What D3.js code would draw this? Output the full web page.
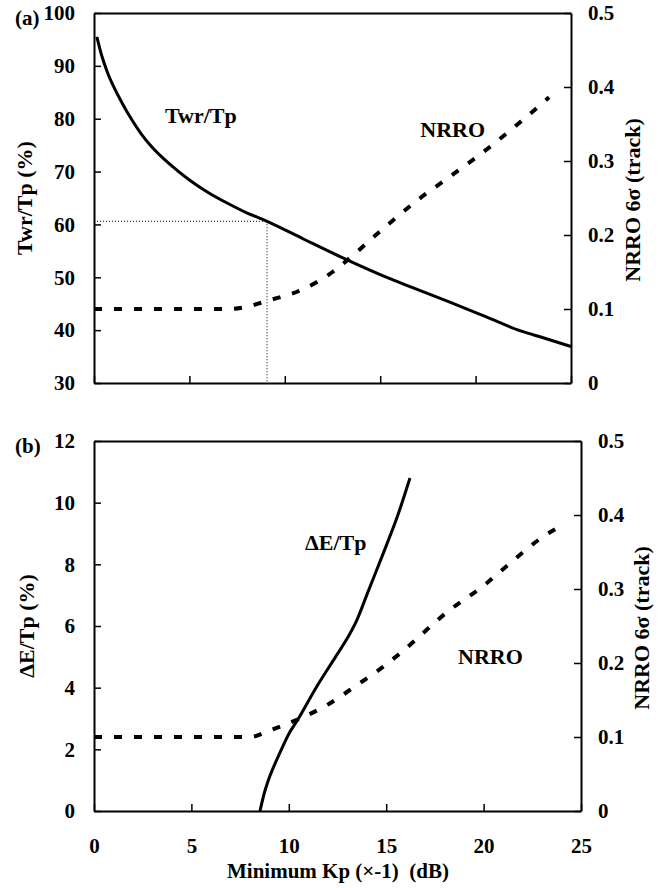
<!DOCTYPE html>
<html>
<head>
<meta charset="utf-8">
<script src="https://d3js.org/d3.v7.min.js"></script>
<style>
  body { margin: 0; background: #fff; }
  svg text { font-family: "Liberation Serif", "Times New Roman", serif; font-weight: bold; fill: #000; }
</style>
</head>
<body>
<div id="widget"></div>
<script>
// panel (a): Twr/Tp vs minimum Kp
const kpTwr = [0.15, 0.4, 0.7, 1, 1.5, 2, 2.5, 3, 4, 5, 6, 7, 8, 9.07, 11, 12.9, 15, 16.8, 18.65, 20.5, 22.4, 23.5, 25];
const twrTp = [95.5, 92, 88.8, 86.3, 82.8, 79.7, 77, 74.8, 71.3, 68.4, 66, 64, 62.2, 60.6, 57.2, 53.9, 50.5, 47.9, 45.3, 42.6, 39.8, 38.6, 36.9];

// panel (a): NRRO 6 sigma
const kpNrroA = [0, 7, 8, 9.07, 10.8, 12.5, 12.9, 15, 17, 18.66, 20.65, 22.22, 23.85];
const nrroA = [0.1, 0.1, 0.103, 0.111, 0.125, 0.15, 0.158, 0.205, 0.248, 0.279, 0.317, 0.35, 0.386];

// guide point on panel (a)
const guideKp = 9.07;
const guideTwr = 60.6;

// panel (b): dE/Tp vs minimum Kp
const kpDe = [8.52, 8.75, 8.95, 9.2, 9.55, 10, 10.4, 11.4, 12.4, 13, 13.5, 14, 14.5, 15, 15.6, 16.22];
const deTp = [0, 0.6, 1, 1.4, 1.9, 2.5, 2.9, 4, 5, 5.6, 6.2, 7, 7.8, 8.6, 9.6, 10.8];

// panel (b): NRRO 6 sigma
const kpNrroB = [0, 8, 9.03, 10.57, 11.95, 13.49, 14.85, 15.71, 18.28, 19.98, 21.36, 23.07, 24.01];
const nrroB = [0.1, 0.1, 0.109, 0.125, 0.143, 0.17, 0.195, 0.213, 0.272, 0.304, 0.335, 0.371, 0.386];

// ticks
const kpTicks = [0, 5, 10, 15, 20, 25];
const twrTicks = [30, 40, 50, 60, 70, 80, 90, 100];
const deTicks = [0, 2, 4, 6, 8, 10, 12];
const nrroTicks = [0, 0.1, 0.2, 0.3, 0.4, 0.5];

const W = 658, H = 888;
const svg = d3.select('#widget').append('svg').attr('width', W).attr('height', H);

function panel(opt) {
  const g = svg.append('g');
  const x = d3.scaleLinear().domain([0, 25]).range([opt.left, opt.right]);
  const yL = d3.scaleLinear().domain(opt.leftDomain).range([opt.bottom, opt.top]);
  const yR = d3.scaleLinear().domain([0, 0.5]).range([opt.bottom, opt.top]);

  const style = (sel) => {
    sel.select('.domain').attr('stroke-width', 2);
    sel.selectAll('.tick line').attr('stroke-width', 1.5);
    sel.selectAll('text').attr('font-size', 21).attr('font-family', null);
  };

  g.append('g').attr('transform', `translate(${opt.left},0)`)
    .call(d3.axisLeft(yL).tickValues(opt.leftTicks).tickSize(-7).tickSizeOuter(0).tickPadding(19))
    .call(style);
  g.append('g').attr('transform', `translate(${opt.right},0)`)
    .call(d3.axisRight(yR).tickValues(nrroTicks).tickSize(-7).tickSizeOuter(0).tickPadding(17)
      .tickFormat(d => d === 0 ? '0' : d3.format('.1f')(d)))
    .call(style);
  const xa = d3.axisBottom(x).tickValues(kpTicks).tickSize(-7).tickSizeOuter(0).tickPadding(27);
  if (!opt.xLabels) xa.tickFormat('');
  g.append('g').attr('transform', `translate(0,${opt.bottom})`).call(xa).call(style);
  g.append('g').attr('transform', `translate(0,${opt.top})`)
    .call(d3.axisTop(x).tickValues([]).tickSizeOuter(0)).call(style);
  g.selectAll('.tick text').attr('fill', '#000');

  g.append('path')
    .datum(opt.main.xs.map((v, i) => [v, opt.main.ys[i]]))
    .attr('fill', 'none').attr('stroke', '#000').attr('stroke-width', 3)
    .attr('stroke-linejoin', 'round')
    .attr('d', d3.line().x(d => x(d[0])).y(d => yL(d[1])).curve(d3.curveMonotoneX));

  g.append('path')
    .datum(opt.nrro.xs.map((v, i) => [v, opt.nrro.ys[i]]))
    .attr('fill', 'none').attr('stroke', '#000').attr('stroke-width', 4)
    .attr('stroke-dasharray', '8,12')
    .attr('d', d3.line().x(d => x(d[0])).y(d => yR(d[1])).curve(d3.curveMonotoneX));

  // axis titles
  g.append('text')
    .attr('transform', `translate(${opt.leftTitleX},${(opt.top + opt.bottom) / 2}) rotate(-90)`)
    .attr('text-anchor', 'middle').attr('font-size', 22)
    .text(opt.leftTitle);
  g.append('text')
    .attr('transform', `translate(${opt.rightTitleX},${(opt.top + opt.bottom) / 2 + 2}) rotate(-90)`)
    .attr('text-anchor', 'middle').attr('font-size', 22)
    .text('NRRO 6\u03c3 (track)');

  g.append('text').attr('x', 15).attr('y', opt.top + 12).attr('font-size', 21).text(opt.tag);

  g.append('text').attr('x', x(opt.mainLabel[0])).attr('y', yL(opt.mainLabel[1]))
    .attr('font-size', 22).text(opt.mainLabel[2]);
  g.append('text').attr('x', x(opt.nrroLabel[0])).attr('y', yR(opt.nrroLabel[1]))
    .attr('font-size', 22).text('NRRO');

  return { g, x, yL, yR };
}

const a = panel({
  left: 94, right: 571, top: 13, bottom: 383,
  leftDomain: [30, 100], leftTicks: twrTicks,
  main: { xs: kpTwr, ys: twrTp }, nrro: { xs: kpNrroA, ys: nrroA },
  leftTitle: 'Twr/Tp (%)', leftTitleX: 32, rightTitleX: 640,
  tag: '(a)', xLabels: false,
  mainLabel: [3.72, 79.2, 'Twr/Tp'], nrroLabel: [17.1, 0.332]
});

// dotted guide lines
a.g.append('line')
  .attr('x1', a.x(0)).attr('x2', a.x(guideKp))
  .attr('y1', a.yL(guideTwr)).attr('y2', a.yL(guideTwr))
  .attr('stroke', '#000').attr('stroke-width', 1).attr('stroke-dasharray', '1,2');
a.g.append('line')
  .attr('x1', a.x(guideKp)).attr('x2', a.x(guideKp))
  .attr('y1', a.yL(guideTwr)).attr('y2', a.yL(30))
  .attr('stroke', '#000').attr('stroke-width', 1).attr('stroke-dasharray', '1,2');

const b = panel({
  left: 94, right: 581, top: 441, bottom: 811,
  leftDomain: [0, 12], leftTicks: deTicks,
  main: { xs: kpDe, ys: deTp }, nrro: { xs: kpNrroB, ys: nrroB },
  leftTitle: '\u0394E/Tp (%)', leftTitleX: 34, rightTitleX: 649,
  tag: '(b)', xLabels: true,
  mainLabel: [10.83, 8.47, '\u0394E/Tp'], nrroLabel: [18.69, 0.199]
});

svg.append('text')
  .attr('x', 338).attr('y', 878).attr('text-anchor', 'middle').attr('font-size', 21)
  .style('white-space', 'pre')
  .text('Minimum Kp (\u00d7-1)  (dB)');
</script>
</body>
</html>
